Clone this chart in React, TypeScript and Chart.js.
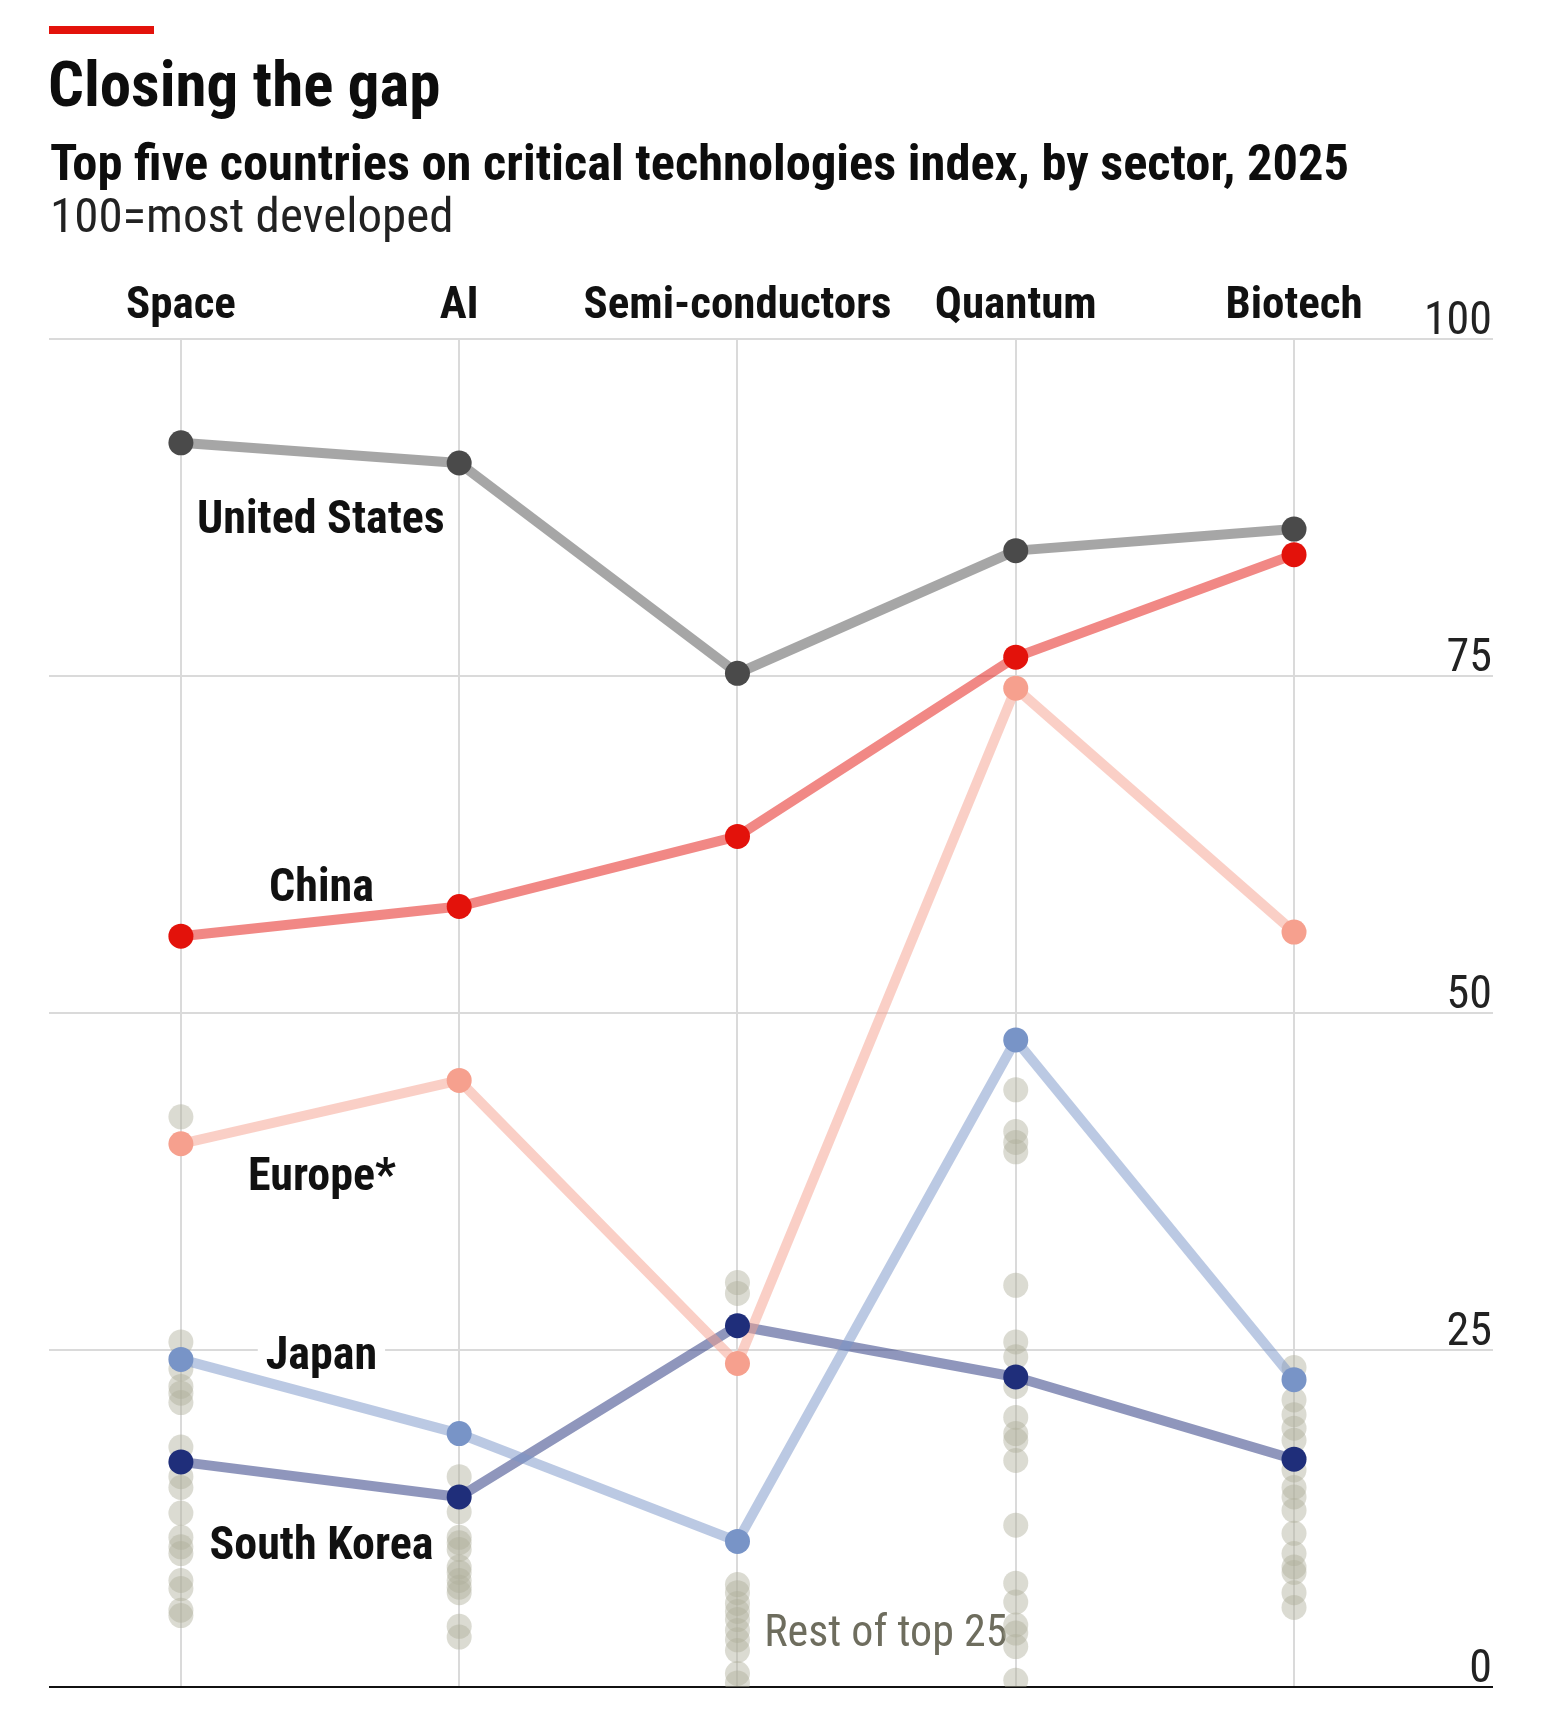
import React, { useEffect, useRef } from 'react';
import { Chart, registerables } from 'chart.js';

Chart.register(...registerables);

// Sector columns and value axis ticks
const sectors = ['Space', 'AI', 'Semi-conductors', 'Quantum', 'Biotech'];
const yTicks = [0, 25, 50, 75, 100];

// Index scores (100 = most developed), one value per sector
const unitedStates = [92.3, 90.8, 75.2, 84.3, 85.9];
const china = [55.7, 57.9, 63.1, 76.4, 84.0];
const europe = [40.3, 45.0, 24.0, 74.1, 56.0];
const japan = [24.3, 18.8, 10.8, 48.0, 22.8];
const southKorea = [16.7, 14.1, 26.8, 23.0, 16.9];

// Remaining countries of the top 25, per sector
const restSpace = [42.3, 25.6, 23.6, 22.3, 21.8, 21.1, 17.8, 15.6, 14.8, 12.9, 11.1, 10.4, 9.9, 7.9, 7.3, 5.7, 5.3];
const restAI = [15.6, 13.0, 11.1, 10.7, 10.2, 8.9, 8.5, 7.9, 7.4, 7.0, 4.5, 3.7];
const restSemis = [30.0, 29.2, 7.6, 7.0, 6.2, 5.6, 5.0, 4.2, 3.5, 2.7, 1.0, 0.3];
const restQuantum = [44.3, 41.2, 40.4, 39.7, 29.8, 25.6, 24.5, 22.3, 20.0, 18.8, 18.3, 16.8, 12.0, 7.7, 6.3, 4.6, 4.0, 3.0, 0.5];
const restBiotech = [23.7, 21.3, 20.2, 19.2, 18.3, 16.1, 14.8, 14.1, 13.1, 11.4, 9.9, 8.9, 8.5, 7.0, 5.9];

const FAMILY = '"Liberation Sans Narrow", "Roboto Condensed", "DejaVu Sans Condensed", Roboto, sans-serif';
const font = (weight: string, size: number) => `${weight} ${size}px ${FAMILY}`;

type Country = { name: string; values: number[]; dot: string; line: string };

const countries: Country[] = [
  { name: 'United States', values: unitedStates, dot: '#4a4a4a', line: 'rgba(77,77,77,0.5)' },
  { name: 'China', values: china, dot: '#e3120b', line: 'rgba(227,18,11,0.5)' },
  { name: 'Europe*', values: europe, dot: '#f6a08e', line: 'rgba(246,160,142,0.5)' },
  { name: 'Japan', values: japan, dot: '#7894c7', line: 'rgba(120,148,199,0.5)' },
  { name: 'South Korea', values: southKorea, dot: '#1f2e7a', line: 'rgba(31,46,122,0.5)' },
];

const restBySector = [restSpace, restAI, restSemis, restQuantum, restBiotech];

// Text annotations placed in data coordinates (x = sector index, y = score)
const annotations = [
  { text: 'United States', x: 0.503, y: 86.8, weight: 'bold', size: 46, color: '#111', knockout: false },
  { text: 'China', x: 0.505, y: 59.5, weight: 'bold', size: 46, color: '#111', knockout: false },
  { text: 'Europe*', x: 0.507, y: 38.1, weight: 'bold', size: 46, color: '#111', knockout: false },
  { text: 'Japan', x: 0.505, y: 24.8, weight: 'bold', size: 46, color: '#111', knockout: true },
  { text: 'South Korea', x: 0.505, y: 10.7, weight: 'bold', size: 46, color: '#111', knockout: false },
  { text: 'Rest of top 25', x: 2.533, y: 4.2, weight: 'normal', size: 44, color: '#6e6d5e', knockout: false },
];

const headerPlugin = {
  id: 'header',
  beforeDraw(chart: any) {
    const { ctx } = chart;
    ctx.save();
    ctx.fillStyle = '#ffffff';
    ctx.fillRect(0, 0, chart.width, chart.height);
    ctx.fillStyle = '#e3120b';
    ctx.fillRect(49, 26, 105, 8);
    ctx.textAlign = 'left';
    ctx.textBaseline = 'alphabetic';
    ctx.fillStyle = '#0d0d0d';
    ctx.font = font('bold', 63);
    ctx.fillText('Closing the gap', 48, 106);
    ctx.font = font('bold', 50.5);
    ctx.fillText('Top five countries on critical technologies index, by sector, 2025', 50, 180);
    ctx.fillStyle = '#222';
    ctx.font = font('normal', 49);
    ctx.fillText('100=most developed', 50, 232);
    ctx.restore();
  },
};

const labelPlugin = {
  id: 'seriesLabels',
  beforeDatasetsDraw(chart: any) {
    const { ctx, scales } = chart;
    ctx.save();
    ctx.textAlign = 'center';
    ctx.textBaseline = 'middle';
    annotations.forEach((a) => {
      const px = scales.x.getPixelForValue(a.x);
      const py = scales.y.getPixelForValue(a.y) + 5;
      ctx.font = font(a.weight, a.size);
      if (a.knockout) {
        const w = ctx.measureText(a.text).width;
        ctx.fillStyle = '#ffffff';
        ctx.fillRect(px - w / 2 - 8, py - 26, w + 16, 46);
      }
      ctx.fillStyle = a.color;
      ctx.fillText(a.text, px, py);
    });
    ctx.restore();
  },
};

export default function App() {
  const canvasRef = useRef<HTMLCanvasElement | null>(null);

  useEffect(() => {
    const canvas = canvasRef.current;
    if (!canvas) return;

    const restDots = restBySector.flatMap((vals, i) => vals.map((v) => ({ x: i, y: v })));

    const datasets: any[] = [
      {
        label: 'Rest of top 25',
        data: restDots,
        showLine: false,
        pointRadius: 12.5,
        pointBackgroundColor: 'rgba(175,175,155,0.45)',
        pointBorderWidth: 0,
        order: 4,
      },
      ...countries.map((c) => ({
        label: c.name + ' line',
        data: c.values.map((v, i) => ({ x: i, y: v })),
        borderColor: c.line,
        borderWidth: 10,
        borderJoinStyle: 'round',
        borderCapStyle: 'round',
        pointRadius: 0,
        fill: false,
        tension: 0,
        order: 3,
      })),
      ...countries.map((c) => ({
        label: c.name,
        data: c.values.map((v, i) => ({ x: i, y: v })),
        showLine: false,
        pointRadius: 12.5,
        pointBackgroundColor: c.dot,
        pointBorderWidth: 0,
        order: 1,
      })),
    ];

    const chart = new Chart(canvas, {
      type: 'line',
      data: { datasets },
      options: {
        responsive: false,
        animation: false,
        events: [],
        layout: { padding: { top: 279, left: 49, right: 49, bottom: 34 } },
        plugins: {
          legend: { display: false },
          tooltip: { enabled: false },
        },
        scales: {
          x: {
            type: 'linear',
            position: 'top',
            min: -0.474,
            max: 4.715,
            afterBuildTicks: (s: any) => {
              s.ticks = sectors.map((_, i) => ({ value: i }));
            },
            afterFit: (s: any) => {
              s.height = 60;
            },
            ticks: {
              autoSkip: false,
              maxRotation: 0,
              minRotation: 0,
              padding: 5,
              color: '#111',
              font: { family: FAMILY, size: 45, weight: 'bold' },
              callback: (v: any) => sectors[v] ?? '',
            },
            grid: { color: '#dadada', lineWidth: 2, drawTicks: false },
            border: { display: false },
          },
          y: {
            type: 'linear',
            position: 'right',
            min: 0,
            max: 100,
            afterBuildTicks: (s: any) => {
              s.ticks = yTicks.map((v) => ({ value: v }));
            },
            afterFit: (s: any) => {
              s.width = 0;
            },
            ticks: {
              mirror: true,
              padding: -1,
              labelOffset: -17,
              color: '#222',
              font: { family: FAMILY, size: 46, weight: 'normal' },
              callback: (v: any) => String(v),
            },
            grid: {
              color: (c: any) => (c.tick && c.tick.value === 0 ? '#111' : '#dadada'),
              lineWidth: 2,
              drawTicks: false,
            },
            border: { display: false },
          },
        },
      } as any,
      plugins: [headerPlugin, labelPlugin],
    });

    return () => chart.destroy();
  }, []);

  return (
    <div style={{ position: 'absolute', left: 0, top: 0, width: 1542, height: 1721, background: '#fff' }}>
      <canvas ref={canvasRef} width={1542} height={1721} style={{ display: 'block' }} />
    </div>
  );
}
